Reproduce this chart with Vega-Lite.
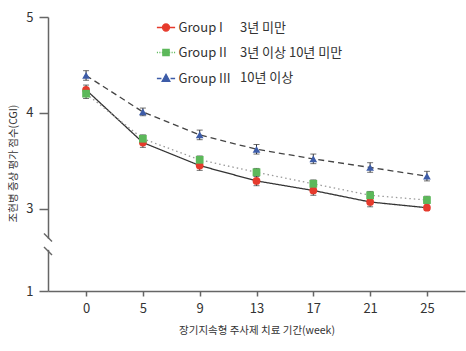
{
  "$schema": "https://vega.github.io/schema/vega-lite/v6.json",
  "width": 417,
  "height": 274,
  "autosize": {"type": "none"},
  "padding": {"left": 48, "top": 17, "right": 1, "bottom": 60},
  "background": "white",
  "config": {
    "view": {"stroke": null},
    "font": "Noto Sans CJK KR",
    "axis": {
      "domainColor": "#666",
      "domainWidth": 1.5,
      "tickColor": "#666",
      "tickWidth": 1.5,
      "labelColor": "#333",
      "labelFont": "Noto Sans CJK KR",
      "labelFontSize": 13,
      "titleFont": "Noto Sans CJK KR",
      "titleFontSize": 10.5,
      "titleFontWeight": "normal",
      "titleColor": "#333",
      "grid": false
    }
  },
  "datasets": {
    "scores": [
      {"group": "Group I", "period": "3년 미만", "week": 0, "mean": 4.24, "err": 0.05},
      {"group": "Group I", "period": "3년 미만", "week": 5, "mean": 3.69, "err": 0.05},
      {"group": "Group I", "period": "3년 미만", "week": 9, "mean": 3.45, "err": 0.05},
      {"group": "Group I", "period": "3년 미만", "week": 13, "mean": 3.29, "err": 0.05},
      {"group": "Group I", "period": "3년 미만", "week": 17, "mean": 3.19, "err": 0.05},
      {"group": "Group I", "period": "3년 미만", "week": 21, "mean": 3.07, "err": 0.05},
      {"group": "Group I", "period": "3년 미만", "week": 25, "mean": 3.01, "err": 0.05},
      {"group": "Group II", "period": "3년 이상 10년 미만", "week": 0, "mean": 4.20, "err": 0.05},
      {"group": "Group II", "period": "3년 이상 10년 미만", "week": 5, "mean": 3.73, "err": 0.04},
      {"group": "Group II", "period": "3년 이상 10년 미만", "week": 9, "mean": 3.51, "err": 0.04},
      {"group": "Group II", "period": "3년 이상 10년 미만", "week": 13, "mean": 3.38, "err": 0.04},
      {"group": "Group II", "period": "3년 이상 10년 미만", "week": 17, "mean": 3.26, "err": 0.04},
      {"group": "Group II", "period": "3년 이상 10년 미만", "week": 21, "mean": 3.14, "err": 0.04},
      {"group": "Group II", "period": "3년 이상 10년 미만", "week": 25, "mean": 3.09, "err": 0.04},
      {"group": "Group III", "period": "10년 이상", "week": 0, "mean": 4.39, "err": 0.05},
      {"group": "Group III", "period": "10년 이상", "week": 5, "mean": 4.01, "err": 0.04},
      {"group": "Group III", "period": "10년 이상", "week": 9, "mean": 3.77, "err": 0.05},
      {"group": "Group III", "period": "10년 이상", "week": 13, "mean": 3.62, "err": 0.05},
      {"group": "Group III", "period": "10년 이상", "week": 17, "mean": 3.52, "err": 0.05},
      {"group": "Group III", "period": "10년 이상", "week": 21, "mean": 3.43, "err": 0.05},
      {"group": "Group III", "period": "10년 이상", "week": 25, "mean": 3.34, "err": 0.05}
    ],
    "gap": [{"lo": 2.0, "hi": 2.27}],
    "breaks": [{"brk": 2.30}, {"brk": 1.97}]
  },
  "layer": [
    {
      "data": {"name": "scores"},
      "mark": {"type": "line", "strokeWidth": 1.3},
      "encoding": {
        "x": {"field": "week", "type": "ordinal", "scale": {"type": "point", "padding": 0.67},
              "axis": {"labelAngle": 0, "tickSize": 5, "labelPadding": 6, "titlePadding": 10, "title": "장기지속형 주사제 치료 기간(week)"}},
        "y": {"field": "mean", "type": "quantitative",
              "scale": {"domain": [1, 3, 5], "range": [274, 191.7, 0], "nice": false, "zero": false},
              "axis": {"values": [1, 3, 4, 5], "format": "d", "tickSize": 9, "labelPadding": 6, "title": "조현병 증상 평가 점수(CGI)", "titleX": -30, "titleY": 146}},
        "color": {"field": "group", "type": "nominal", "scale": {"domain": ["Group I", "Group II", "Group III"], "range": ["#333333", "#999999", "#444444"]}, "legend": null},
        "strokeDash": {"field": "period", "type": "nominal",
                       "scale": {"domain": ["3년 미만", "3년 이상 10년 미만", "10년 이상"], "range": [[1, 0], [1.5, 3], [6, 4]]},
                       "legend": {"orient": "none", "legendX": 179, "legendY": 4, "title": null, "padding": 0,
                                  "symbolOpacity": 0, "symbolSize": 1, "labelOffset": 0, "rowPadding": 11,
                                  "labelFont": "Noto Sans CJK KR", "labelFontSize": 13, "labelColor": "#333"}}
      }
    },
    {
      "data": {"name": "scores"},
      "mark": {"type": "errorbar", "ticks": {"size": 6, "color": "#333"}, "color": "#333", "thickness": 1},
      "encoding": {
        "x": {"field": "week", "type": "ordinal"},
        "y": {"field": "mean", "type": "quantitative", "title": "조현병 증상 평가 점수(CGI)"},
        "yError": {"field": "err"}
      }
    },
    {
      "data": {"name": "scores"},
      "mark": {"type": "point", "filled": true, "size": 60, "opacity": 1},
      "encoding": {
        "x": {"field": "week", "type": "ordinal"},
        "y": {"field": "mean", "type": "quantitative", "title": "조현병 증상 평가 점수(CGI)"},
        "color": {"field": "group", "type": "nominal", "scale": {"domain": ["Group I", "Group II", "Group III"], "range": ["#e63a2c", "#5cb85a", "#3d5ca8"]}, "legend": null},
        "shape": {"field": "group", "type": "nominal", "scale": {"domain": ["Group I", "Group II", "Group III"], "range": ["circle", "square", "triangle-up"]}, "legend": null}
      }
    },
    {
      "data": {"name": "scores"},
      "mark": {"type": "point", "filled": true, "size": 49, "opacity": 0},
      "encoding": {
        "x": {"field": "week", "type": "ordinal"},
        "y": {"field": "mean", "type": "quantitative", "title": "조현병 증상 평가 점수(CGI)"},
        "shape": {"field": "group", "type": "nominal",
                  "scale": {"domain": ["Group I", "Group II", "Group III"],
                            "range": ["M -2.6 0 L -1 0 M 1 0 L 2.6 0 M 1 0 A 1 1 0 1 1 -1 0 A 1 1 0 1 1 1 0",
                                      "M -2.6 0 L -2.3 0 M -1.9 0 L -1.6 0 M -1.2 0 L -0.9 0 M 0.9 0 L 1.2 0 M 1.6 0 L 1.9 0 M 2.3 0 L 2.6 0 M -0.9 -0.9 L 0.9 -0.9 L 0.9 0.9 L -0.9 0.9 Z",
                                      "M -2.6 0 L -1.3 0 M 1.3 0 L 2.6 0 M 0 -1.2 L 1.1 0.8 L -1.1 0.8 Z"]},
                  "legend": {"orient": "none", "legendX": 111.5, "legendY": 4, "title": null, "padding": 0,
                             "symbolOpacity": 1, "symbolSize": 49, "symbolStrokeWidth": 1.3, "labelOffset": 6, "rowPadding": 11,
                             "labelFont": "Noto Sans CJK KR", "labelFontSize": 13, "labelColor": "#333"}},
        "fill": {"field": "group", "type": "nominal", "scale": {"domain": ["Group I", "Group II", "Group III"], "range": ["#e63a2c", "#5cb85a", "#3d5ca8"]},
                 "legend": {"orient": "none", "legendX": 111.5, "legendY": 4, "title": null, "padding": 0,
                            "symbolOpacity": 1, "symbolSize": 49, "symbolStrokeWidth": 1.3, "labelOffset": 6, "rowPadding": 11,
                            "labelFont": "Noto Sans CJK KR", "labelFontSize": 13, "labelColor": "#333"}},
        "stroke": {"field": "group", "type": "nominal", "scale": {"domain": ["Group I", "Group II", "Group III"], "range": ["#e63a2c", "#5cb85a", "#3d5ca8"]},
                   "legend": {"orient": "none", "legendX": 111.5, "legendY": 4, "title": null, "padding": 0,
                              "symbolOpacity": 1, "symbolSize": 49, "symbolStrokeWidth": 1.3, "labelOffset": 6, "rowPadding": 11,
                              "labelFont": "Noto Sans CJK KR", "labelFontSize": 13, "labelColor": "#333"}}
      }
    },
    {
      "data": {"name": "gap"},
      "mark": {"type": "rule", "color": "white", "strokeWidth": 5},
      "encoding": {
        "x": {"value": 0},
        "y": {"field": "lo", "type": "quantitative", "title": "조현병 증상 평가 점수(CGI)"},
        "y2": {"field": "hi"}
      }
    },
    {
      "data": {"name": "breaks"},
      "mark": {"type": "point", "shape": "M -1 -1 L 1 1", "size": 64, "filled": false, "stroke": "#666", "strokeWidth": 1.5, "opacity": 1},
      "encoding": {
        "x": {"value": 0},
        "y": {"field": "brk", "type": "quantitative", "title": "조현병 증상 평가 점수(CGI)"}
      }
    }
  ],
  "resolve": {"scale": {"color": "independent", "shape": "independent", "fill": "independent", "stroke": "independent", "strokeDash": "independent"}}
}
